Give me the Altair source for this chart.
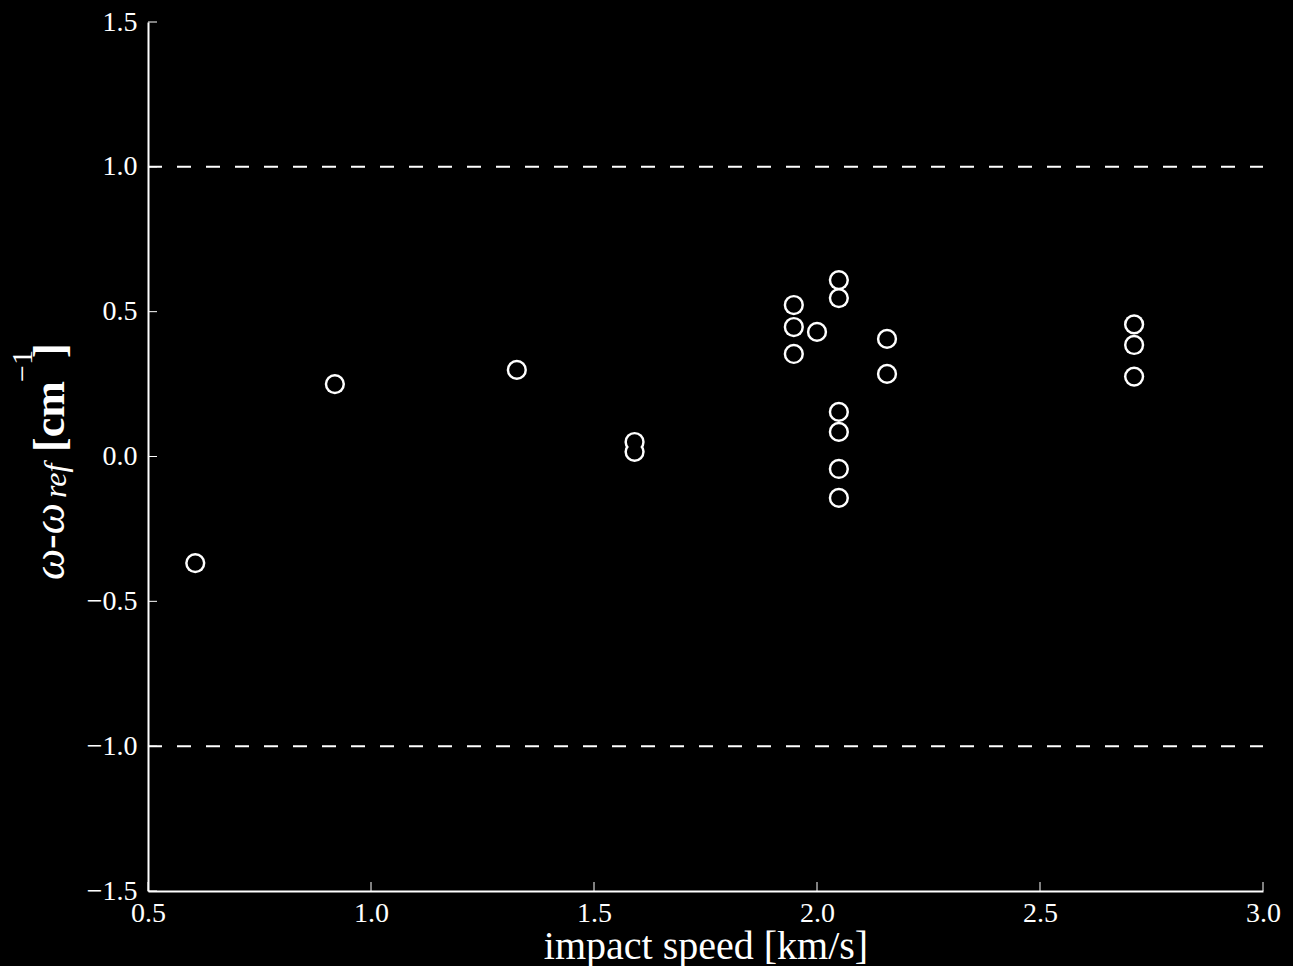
import altair as alt
import pandas as pd

# data
speed = [0.606, 0.919, 1.327, 1.591, 1.591, 1.948, 1.948, 1.948, 2.000, 2.049,
         2.049, 2.049, 2.049, 2.049, 2.049, 2.157, 2.157, 2.711, 2.711, 2.711]
delta = [-0.368, 0.250, 0.299, 0.050, 0.016, 0.523, 0.447, 0.354, 0.430, 0.609,
         0.547, 0.154, 0.085, -0.043, -0.143, 0.406, 0.285, 0.456, 0.385, 0.276]
limits = [1.0, -1.0]
x_ticks = [0.5, 1.0, 1.5, 2.0, 2.5, 3.0]
y_ticks = [-1.5, -1.0, -0.5, 0.0, 0.5, 1.0, 1.5]

W, H = 1115, 869
FONT = "Liberation Serif"

pts = pd.DataFrame({"speed": speed, "delta": delta})
lim = pd.DataFrame({"delta": limits})
xt = pd.DataFrame({"speed": x_ticks})
yt = pd.DataFrame({"delta": y_ticks})

xscale = alt.Scale(domain=[0.5, 3.0], nice=False, zero=False)
yscale = alt.Scale(domain=[-1.5, 1.5], nice=False, zero=False)

xaxis = alt.Axis(values=x_ticks, format=".1f", ticks=False, grid=False,
                 domainColor="white", domainWidth=2, labelColor="white",
                 labelFont=FONT, labelFontSize=28, labelPadding=8,
                 labelFlush=False, labelOverlap=False,
                 title="impact speed [km/s]", titleFont=FONT, titleFontSize=40,
                 titleFontWeight="normal", titleColor="white", titlePadding=-1)
yaxis = alt.Axis(values=y_ticks, format=".1f", ticks=False, grid=False,
                 domainColor="white", domainWidth=2, labelColor="white",
                 labelFont=FONT, labelFontSize=28, labelPadding=11,
                 labelFlush=False, labelOverlap=False, title=None)

base_pts = alt.Chart(pts)
outer = base_pts.mark_point(shape="circle", filled=True, fill="white",
                            stroke=None, size=410, opacity=1).encode(
    x=alt.X("speed:Q", scale=xscale, axis=xaxis),
    y=alt.Y("delta:Q", scale=yscale, axis=yaxis),
)
inner = base_pts.mark_point(shape="circle", filled=True, fill="black",
                            stroke=None, size=235, opacity=1).encode(
    x=alt.X("speed:Q", scale=xscale),
    y=alt.Y("delta:Q", scale=yscale),
)

dashes = alt.Chart(lim).mark_rule(color="white", strokeWidth=2,
                                  strokeDash=[14, 15]).encode(
    y=alt.Y("delta:Q", scale=yscale),
    x=alt.value(0), x2=alt.value(W),
)

xticks = alt.Chart(xt).mark_rule(color="white", strokeWidth=1).encode(
    x=alt.X("speed:Q", scale=xscale),
    y=alt.value(H), y2=alt.value(H - 9),
)
yticks = alt.Chart(yt).mark_rule(color="white", strokeWidth=1).encode(
    y=alt.Y("delta:Q", scale=yscale),
    x=alt.value(0), x2=alt.value(9),
)

# y-axis title, built from pieces (omega - omega_ref [cm^-1])
pieces = [
    ("ω-ω", "italic", "normal", 44, -84, 558),
    ("ref", "italic", "normal", 32, -82, 476),
    ("[cm", "normal", "bold", 44, -84, 430),
    ("−1", "normal", "normal", 30, -116, 360),
    ("]", "normal", "bold", 44, -84, 336),
]
title_layers = []
for txt, style, weight, fs, px, py in pieces:
    title_layers.append(
        alt.Chart(pd.DataFrame({"t": [txt]})).mark_text(
            angle=270, align="left", baseline="alphabetic", color="white",
            font=FONT, fontSize=fs, fontStyle=style, fontWeight=weight,
        ).encode(text="t:N", x=alt.value(px), y=alt.value(py))
    )

chart = alt.layer(dashes, xticks, yticks, outer, inner, *title_layers).properties(
    width=W, height=H,
    autosize=alt.AutoSizeParams(type="none"),
    padding={"left": 148, "top": 22, "right": 30, "bottom": 75},
).configure(background="black").configure_view(stroke=None)

chart.save("out.html", embed_options={"renderer": "svg", "actions": False})
